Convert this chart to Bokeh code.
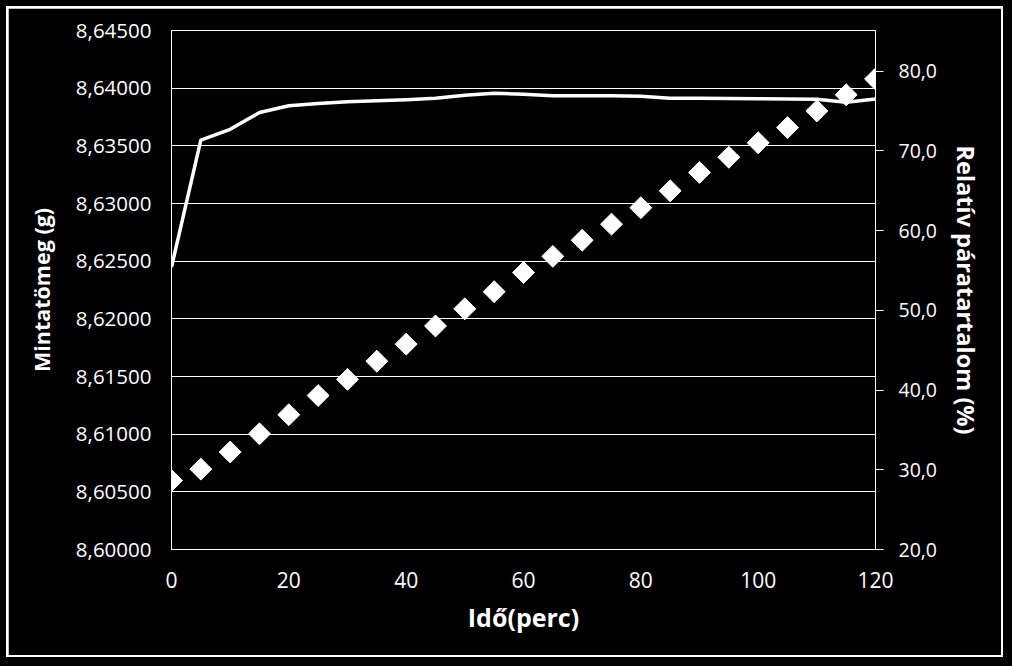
from math import pi
from bokeh.plotting import figure
from bokeh.models import Range1d, LinearAxis, FixedTicker, CustomJSTickFormatter
from bokeh.embed import file_html
from bokeh.resources import INLINE

# ---- data ----
time_min = [0, 5, 10, 15, 20, 25, 30, 35, 40, 45, 50, 55, 60,
            65, 70, 75, 80, 85, 90, 95, 100, 105, 110, 115, 120]
sample_mass_g = [8.62449, 8.63550, 8.63643, 8.63789, 8.63847, 8.63868, 8.63882,
                 8.63891, 8.63900, 8.63912, 8.63938, 8.63956, 8.63947, 8.63934,
                 8.63934, 8.63934, 8.63929, 8.63912, 8.63912, 8.63910, 8.63908,
                 8.63906, 8.63903, 8.63877, 8.63906]
rel_humidity = [28.65, 30.08, 32.23, 34.51, 36.91, 39.31, 41.34, 43.62, 45.76,
                48.04, 50.19, 52.34, 54.74, 56.77, 58.79, 60.81, 62.87, 64.99,
                67.30, 69.20, 71.02, 72.92, 75.01, 77.04, 79.02]
x_ticks = [0, 20, 40, 60, 80, 100, 120]
left_ticks = [8.600, 8.605, 8.610, 8.615, 8.620, 8.625, 8.630, 8.635, 8.640, 8.645]
right_ticks = [20, 30, 40, 50, 60, 70, 80]
x_label = "Idő(perc)"
left_label = "Mintatömeg (g)"
right_label = "Relatív páratartalom (%)"

FONT = "Open Sans"
WHITE = "#ffffff"
BLACK = "#000000"

p = figure(width=993, height=647, output_backend="svg", toolbar_location=None,
           x_range=Range1d(0, 120), y_range=Range1d(8.600, 8.645),
           background_fill_color=BLACK, border_fill_color=BLACK,
           min_border_left=163, min_border_right=130,
           min_border_top=22, min_border_bottom=110,
           outline_line_color=WHITE, outline_line_width=1)
# white picture frame with a black surround
p.styles = {"margin": "6px", "border": "2px solid #ffffff",
            "box-shadow": "0 0 0 16px #000000", "box-sizing": "content-box"}

p.extra_y_ranges = {"rh": Range1d(20, 85.1)}

# grid
p.xgrid.grid_line_color = None
p.ygrid.grid_line_color = WHITE
p.ygrid.grid_line_width = 1

# bottom axis
xa = p.xaxis[0]
xa.ticker = FixedTicker(ticks=x_ticks)
xa.axis_label = x_label

# left axis
ya = p.yaxis[0]
ya.ticker = FixedTicker(ticks=left_ticks)
ya.formatter = CustomJSTickFormatter(code="return tick.toFixed(5).replace('.', ',');")
ya.axis_label = left_label

# right axis
ra = LinearAxis(y_range_name="rh", ticker=FixedTicker(ticks=right_ticks),
                formatter=CustomJSTickFormatter(code="return tick.toFixed(1).replace('.', ',');"),
                axis_label=right_label)
p.add_layout(ra, "right")

for ax in [xa, ya, ra]:
    ax.axis_line_color = WHITE
    ax.axis_line_width = 1
    ax.major_tick_in = 0
    ax.major_tick_out = 0
    ax.minor_tick_line_color = None
    ax.major_tick_line_color = WHITE
    ax.major_label_text_color = WHITE
    ax.major_label_text_font = FONT
    ax.axis_label_text_color = WHITE
    ax.axis_label_text_font = FONT
    ax.axis_label_text_font_style = "bold"

xa.major_label_text_font_size = "21px"
ya.major_label_text_font_size = "20.5px"
ra.major_label_text_font_size = "19.5px"
xa.axis_label_text_font_size = "25px"
ya.axis_label_text_font_size = "21.5px"
ra.axis_label_text_font_size = "23.5px"

xa.major_label_standoff = 22
xa.axis_label_standoff = 9
ya.major_label_standoff = 20
ya.axis_label_standoff = 17
ra.major_tick_out = 8
ra.major_label_standoff = 15
ra.axis_label_standoff = 10

# series
p.line(time_min, sample_mass_g, line_color=WHITE, line_width=3.5, line_join="round")
p.scatter(time_min, rel_humidity, y_range_name="rh", marker="square",
          angle=pi / 4, size=15.5, fill_color=WHITE, line_color=WHITE)

open("out.html", "w").write(file_html(p, INLINE))
